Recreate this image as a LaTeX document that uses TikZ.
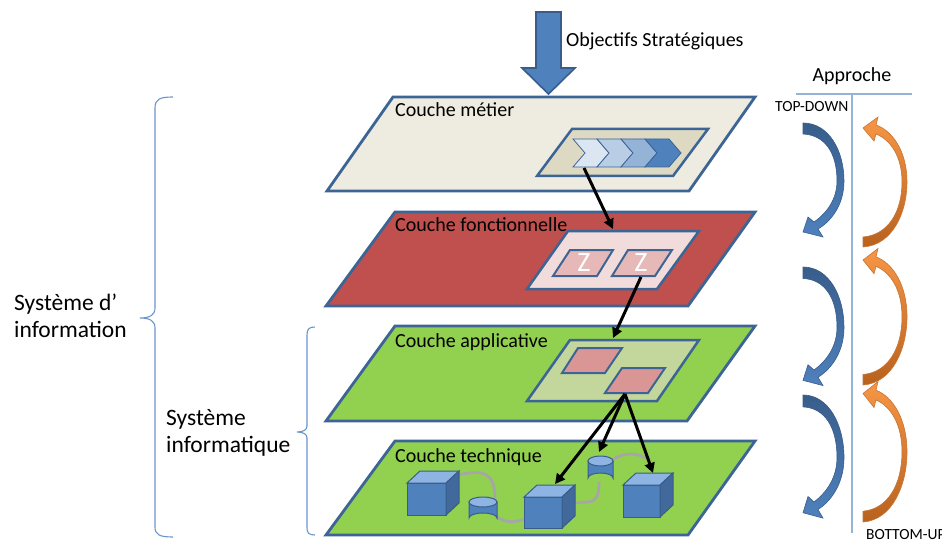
\documentclass[tikz,border=0pt]{standalone}
\usepackage{fontspec}
\setmainfont{Carlito}
\usetikzlibrary{arrows.meta}
\definecolor{edge}{HTML}{3C6595}
\definecolor{beige}{HTML}{EEECE1}
\definecolor{beigein}{HTML}{DDD9C3}
\definecolor{redl}{HTML}{C0504D}
\definecolor{redin}{HTML}{F2DCDB}
\definecolor{redsm}{HTML}{E6B9B8}
\definecolor{greenl}{HTML}{92D050}
\definecolor{greenin}{HTML}{C3D69B}
\definecolor{pinksq}{HTML}{D99694}
\definecolor{bluemid}{HTML}{4F81BD}
\definecolor{bluedark}{HTML}{385D8A}
\definecolor{bluelight}{HTML}{8EB4E3}
\definecolor{bluesidec}{HTML}{41699C}
\definecolor{chev1}{HTML}{DCE6F2}
\definecolor{chev2}{HTML}{B9CDE5}
\definecolor{chev3}{HTML}{95B3D7}
\definecolor{chev4}{HTML}{4F81BD}
\definecolor{orangel}{HTML}{F79646}
\definecolor{oranged}{HTML}{B8621E}
\definecolor{orangeedge}{HTML}{C87533}
\definecolor{linec}{HTML}{95B3D7}
\definecolor{bracec}{HTML}{6A95CC}
\definecolor{greyc}{HTML}{A6A6A6}
\tikzset{
  layer/.style={draw=edge, line width=2.8pt, line join=miter},
  panel/.style={draw=edge, line width=2.5pt},
  lbl/.style={anchor=base west, inner sep=0pt, font=\fontsize{20}{24}\selectfont},
  bigl/.style={anchor=base west, inner sep=0pt, align=left, font=\fontsize{23.5}{27}\selectfont},
  blk/.style={line width=3pt, -{Triangle[length=10pt,width=10pt]}},
  grey/.style={draw=greyc, line width=2.8pt},
  chevron/.style={draw=edge, line width=0.8pt},
  bracel/.style={draw=bracec, line width=1.1pt},
  smalll/.style={anchor=base west, inner sep=0pt, font=\fontsize{15.5}{18}\selectfont},
  bluearc/.pic={
    \path[top color=bluedark, bottom color=bluemid, draw=bluedark, line width=0.6pt]
      (0,0) .. controls (26,0) and (41,28) .. (41,58) .. controls (41,80) and (30,97) .. (15,106)
      -- (20,114) -- (0,109) -- (5,94) -- (11,99)
      .. controls (24,90) and (34,76) .. (34,58) .. controls (34,30) and (22,12) .. (0,11) -- cycle;
  },
  orangearc/.pic={
    \path[top color=orangel, middle color=orangel, bottom color=oranged, draw=orangeedge, line width=0.6pt]
      (0,0) .. controls (30,-2) and (44,-35) .. (44,-65) .. controls (44,-95) and (30,-116) .. (13,-122)
      -- (15,-130) -- (0,-119) -- (11,-106) -- (13,-113)
      .. controls (28,-107) and (39,-90) .. (39,-65) .. controls (39,-35) and (25,-12) .. (0,-10) -- cycle;
  }
}
\newcommand{\drawcube}[4]{%
  \filldraw[fill=bluemid, draw=bluedark, line width=1pt] (#1,#2) rectangle ++(#3,#4);
  \filldraw[fill=bluelight, draw=bluedark, line width=1pt] (#1,#2) -- ++(13,-12) -- ++(#3,0) -- ++(-13,12) -- cycle;
  \filldraw[fill=bluesidec, draw=bluedark, line width=1pt] ({#1+#3},#2) -- ++(13,-12) -- ++(0,#4) -- ++(-13,12) -- cycle;
}
\newcommand{\drawcyl}[4]{%
  \filldraw[fill=bluemid, draw=bluedark, line width=1pt] ({#1-#3},#2) -- ({#1-#3},{#2+#4}) arc (180:360:#3 and 5) -- ({#1+#3},#2) -- cycle;
  \filldraw[fill=bluelight, draw=bluedark, line width=1pt] (#1,#2) ellipse (#3 and 5);
}
\begin{document}
\begin{tikzpicture}[x=1pt,y=-1pt]
\useasboundingbox (0,0) rectangle (942,540);
\fill[white] (0,0) rectangle (942,540);

% big arrow
\filldraw[fill=bluemid, draw=bluedark, line width=1.6pt]
  (536,12) -- (561,12) -- (561,68) -- (575,68) -- (548.5,94) -- (522,68) -- (536,68) -- cycle;
\node[lbl] (obj) at (566,47) {Objectifs Stratégiques};

% layer 1
\path[layer, fill=beige] (393,97) -- (755,97) -- (689,191) -- (327,191) -- cycle;
\path[panel, fill=beigein] (572,129) -- (708,129) -- (673,176) -- (537,176) -- cycle;
\foreach \i/\c in {0/chev1,1/chev2,2/chev3,3/chev4}{
  \filldraw[chevron, fill=\c] ({573+24*\i},139) -- ++(24,0) -- ++(12,14) -- ++(-12,14) -- ++(-24,0) -- ++(12,-14) -- cycle;
}
\node[lbl] (l1) at (395,117) {Couche métier};
\coordinate (c1) at (584,168);

% layer 2
\path[layer, fill=redl] (395,212) -- (755,212) -- (688,306) -- (326,306) -- cycle;
\path[panel, fill=redin] (568,231) -- (699,231) -- (657,289) -- (527,289) -- cycle;
\path[panel, line width=2pt, fill=redsm] (570,250) -- (613,250) -- (597,276) -- (553,276) -- cycle;
\path[panel, line width=2pt, fill=redsm] (628,250) -- (672,250) -- (655,276) -- (612,276) -- cycle;
\node[text=white, font=\fontsize{28}{30}\selectfont, inner sep=0pt] (z1) at (584,263) {Z};
\node[text=white, font=\fontsize{28}{30}\selectfont, inner sep=0pt] (z2) at (641,263) {Z};
\node[lbl] (l2) at (395,232) {Couche fonctionnelle};
\coordinate (p2) at (613,229);
\coordinate (c2) at (641,277);

% layer 3
\path[layer, fill=greenl] (395,326) -- (755,326) -- (687,421) -- (326,421) -- cycle;
\path[panel, fill=greenin] (570,340) -- (699,340) -- (657,401) -- (527,401) -- cycle;
\path[panel, line width=2pt, fill=pinksq] (578,348) -- (622,348) -- (605,373) -- (562,373) -- cycle;
\path[panel, line width=2pt, fill=pinksq] (622,368) -- (665,368) -- (648,393) -- (605,393) -- cycle;
\node[lbl] (l3) at (395,347) {Couche applicative};
\coordinate (p3) at (613,338);
\coordinate (c3) at (625,394);

% layer 4
\path[layer, fill=greenl] (395,441) -- (755,441) -- (688,535) -- (326,535) -- cycle;
\node[lbl] (l4) at (395,462) {Couche technique};
\draw[grey] (457,475) .. controls (482,470) and (495,470) .. (495,500);
\draw[grey] (496,516) .. controls (505,523) and (513,523) .. (525,519);
\draw[grey] (573,503) -- (588,502) .. controls (597,501) and (599,495) .. (599,482);
\draw[grey] (612,460) .. controls (624,452) and (636,452) .. (650,460);
\drawcube{407}{483}{39}{32}
\drawcyl{483}{502}{14}{16}
\drawcube{524}{497}{38}{31}
\drawcyl{600.5}{461}{12.5}{17}
\drawcube{623}{485}{37}{32}
\coordinate (t1) at (555,484);
\coordinate (t2) at (599,452);
\coordinate (t3) at (653,473);

% black arrows
\draw[blk] (c1) -- (p2);
\draw[blk] (c2) -- (p3);
\draw[blk] (c3) -- (t1);
\draw[blk] (c3) -- (t2);
\draw[blk] (c3) -- (t3);

% braces and left labels
\draw[bracel] (173,97) .. controls (160,97) and (155,99) .. (155,108) -- (155,308)
  .. controls (155,315) and (150,318) .. (140,318) .. controls (150,318) and (155,321) .. (155,328)
  -- (155,527) .. controls (155,535) and (160,537) .. (173,537);
\draw[bracel] (315,327) .. controls (309,327) and (307,329) .. (307,335) -- (307,426)
  .. controls (307,430) and (303,432) .. (297,432) .. controls (303,432) and (307,434) .. (307,438)
  -- (307,528) .. controls (307,533) and (309,535) .. (315,535);
\node[bigl] (si) at (14,337) {Système d’\\information};
\node[bigl] (sinf) at (166,452) {Système\\informatique};

% right side
\node[anchor=base, inner sep=0pt, font=\fontsize{20}{24}\selectfont] (appr) at (852,82) {Approche};
\coordinate (hl) at (796,94);
\coordinate (hr) at (912,94);
\coordinate (vt) at (852,94);
\coordinate (vb) at (852,533);
\draw[linec, line width=1.2pt] (hl) -- (hr);
\draw[linec, line width=1.2pt] (vt) -- (vb);
\node[smalll] (td) at (775,112) {TOP-DOWN};
\node[smalll] (bu) at (866,539) {BOTTOM-UP};
\pic at (803,123) {bluearc};
\pic[yscale=1.04] at (803,267) {bluearc};
\pic[yscale=1.08] at (803,395) {bluearc};
\pic at (863,247) {orangearc};
\pic[yscale=1.05] at (863,385) {orangearc};
\pic[yscale=1.08] at (863,522) {orangearc};
\end{tikzpicture}
\end{document}
